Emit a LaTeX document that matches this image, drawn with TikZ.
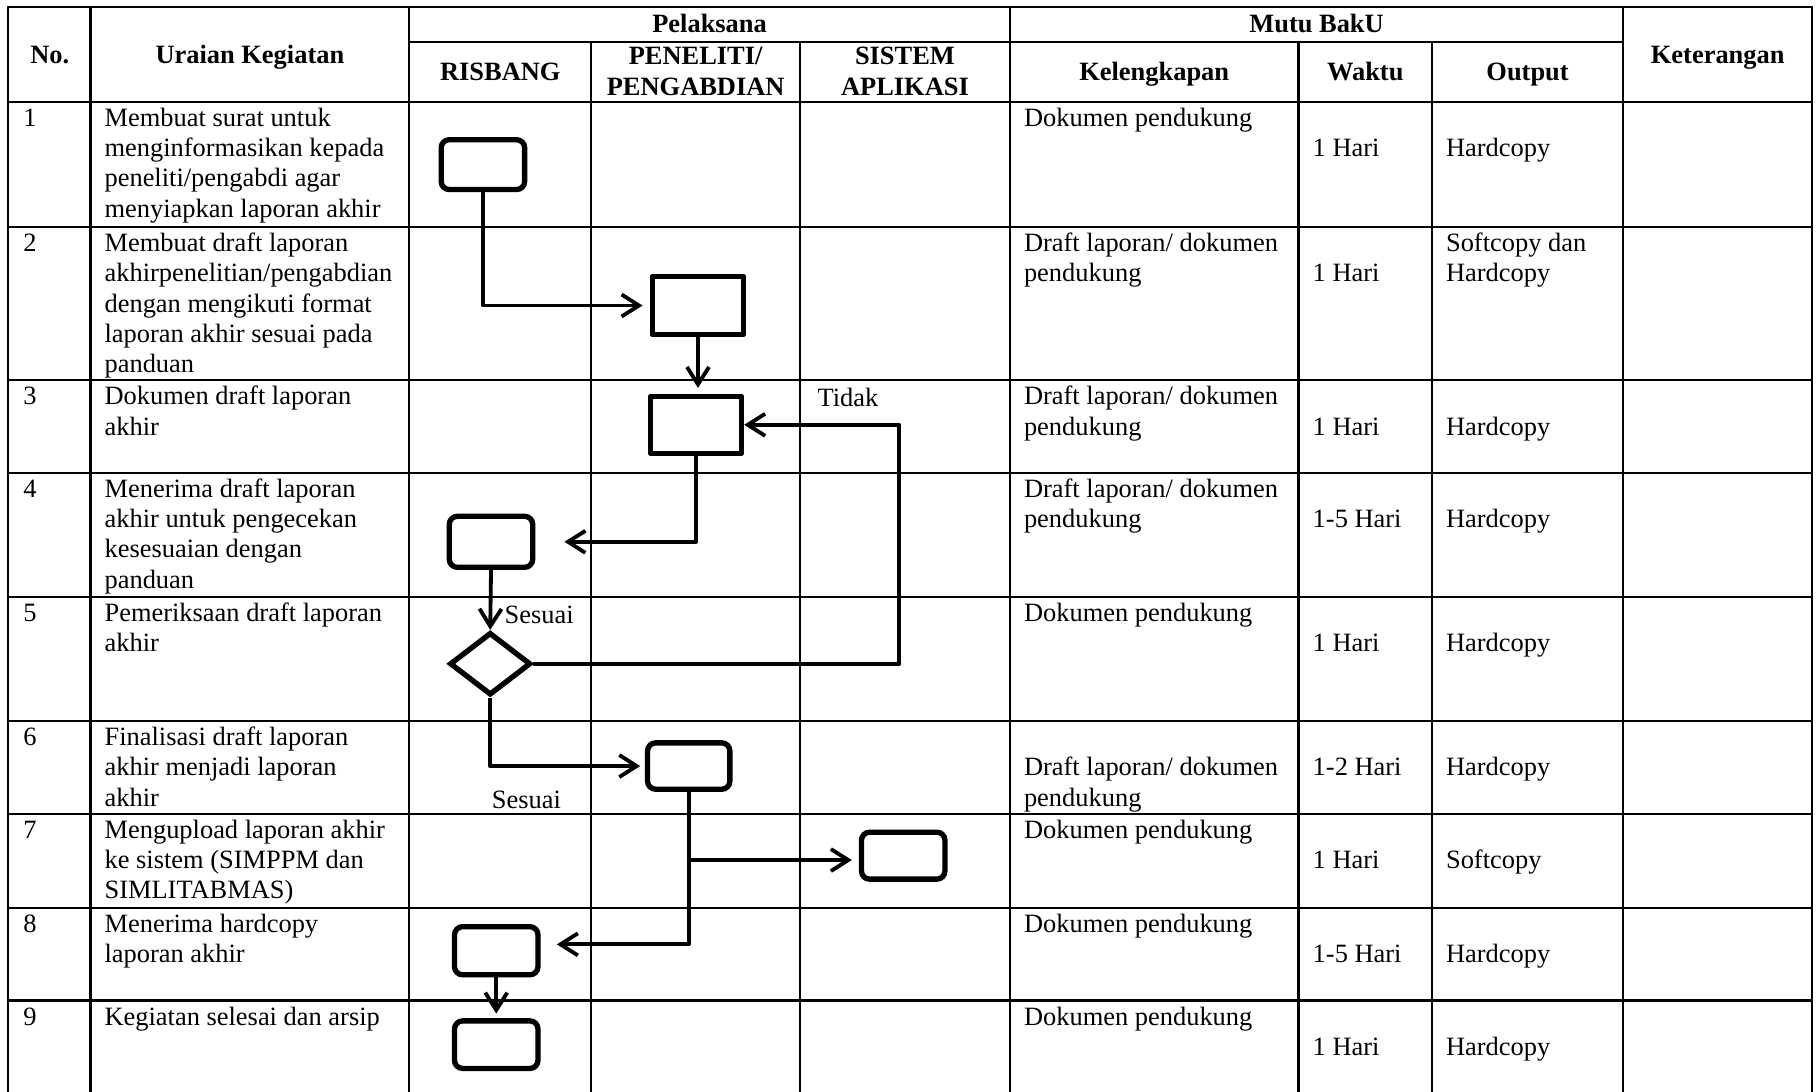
\documentclass[tikz,border=0pt]{standalone}
\usepackage{fontspec}
\setmainfont{Liberation Serif}
\usetikzlibrary{arrows.meta,shapes.geometric}
\tikzset{
  grid/.style={line width=2pt, line cap=rect},
  rbox/.style={draw, line width=4.6pt, rounded corners=7pt, inner sep=0pt, minimum width=72pt, minimum height=43pt},
  sbox/.style={draw, line width=4.6pt, inner sep=0pt, line join=round},
  dbox/.style={draw, diamond, line width=4.6pt, inner sep=0pt, minimum width=70pt, minimum height=54pt, line join=miter},
  arr/.style={line width=3.3pt, line join=round, -{Straight Barb[length=15pt,width=19pt]}},
  txt/.style={anchor=north west, inner sep=0pt, align=left, font=\fontsize{22.8}{26}\selectfont},
  lbl/.style={anchor=base west, inner sep=0pt, font=\fontsize{22.8}{26}\selectfont},
  hd/.style={anchor=base, inner sep=0pt, align=center, font=\bfseries\fontsize{22.8}{26}\selectfont},
}
\begin{document}
\begin{tikzpicture}[x=1pt,y=-1pt]
\useasboundingbox (0,0) rectangle (1568,941);
% table grid
\draw[grid] (7,6) -- (1563,6);
\draw[grid] (353,36) -- (1400,36);
\foreach \y in {88,196,328,408,515,622,702,783,863} \draw[grid] (7,\y) -- (1563,\y);
\foreach \x in {7,78,353,871,1400,1563} \draw[grid] (\x,6) -- (\x,945);
\foreach \x in {510,690,1120,1235} \draw[grid] (\x,36) -- (\x,945);
% headers
\node[hd] (hNo) at (43,55) {No.};
\node[hd] (hUr) at (215.5,55) {Uraian Kegiatan};
\node[hd] (hPel) at (612,28) {Pelaksana};
\node[hd] (hMutu) at (1135.5,28) {Mutu BakU};
\node[hd] (hRis) at (431.5,69.5) {RISBANG};
\node[hd] (hPen1) at (600,56) {PENELITI/};
\node[hd] (hPen2) at (600,82) {PENGABDIAN};
\node[hd] (hSis1) at (780.5,56) {SISTEM};
\node[hd] (hSis2) at (780.5,82) {APLIKASI};
\node[hd] (hKel) at (995.5,69.5) {Kelengkapan};
\node[hd] (hWak) at (1177.5,69.5) {Waktu};
\node[hd] (hOut) at (1317.5,69.5) {Output};
\node[hd] (hKet) at (1481.5,55) {Keterangan};
% row 1
\node[txt] (n1) at (20,90.8) {\strut 1};
\node[txt] (u1) at (90,90.8) {\strut Membuat surat untuk\\menginformasikan kepada\\peneliti/pengabdi agar\\menyiapkan laporan akhir};
\node[txt] (k1) at (883,90.8) {\strut Dokumen pendukung};
\node[txt] (w1) at (1132,116.8) {\strut 1 Hari};
\node[txt] (o1) at (1247,116.8) {\strut Hardcopy};
% row 2
\node[txt] (n2) at (20,198.8) {\strut 2};
\node[txt] (u2) at (90,198.8) {\strut Membuat draft laporan\\akhirpenelitian/pengabdian\\dengan mengikuti format\\laporan akhir sesuai pada\\panduan};
\node[txt] (k2) at (883,198.8) {\strut Draft laporan/ dokumen\\pendukung};
\node[txt] (w2) at (1132,224.8) {\strut 1 Hari};
\node[txt] (o2) at (1247,198.8) {\strut Softcopy dan\\Hardcopy};
% row 3
\node[txt] (n3) at (20,330.8) {\strut 3};
\node[txt] (u3) at (90,330.8) {\strut Dokumen draft laporan\\akhir};
\node[txt] (k3) at (883,330.8) {\strut Draft laporan/ dokumen\\pendukung};
\node[txt] (w3) at (1132,356.8) {\strut 1 Hari};
\node[txt] (o3) at (1247,356.8) {\strut Hardcopy};
% row 4
\node[txt] (n4) at (20,410.8) {\strut 4};
\node[txt] (u4) at (90,410.8) {\strut Menerima draft laporan\\akhir untuk pengecekan\\kesesuaian dengan\\panduan};
\node[txt] (k4) at (883,410.8) {\strut Draft laporan/ dokumen\\pendukung};
\node[txt] (w4) at (1132,436.8) {\strut 1-5 Hari};
\node[txt] (o4) at (1247,436.8) {\strut Hardcopy};
% row 5
\node[txt] (n5) at (20,517.8) {\strut 5};
\node[txt] (u5) at (90,517.8) {\strut Pemeriksaan draft laporan\\akhir};
\node[txt] (k5) at (883,517.8) {\strut Dokumen pendukung};
\node[txt] (w5) at (1132,543.8) {\strut 1 Hari};
\node[txt] (o5) at (1247,543.8) {\strut Hardcopy};
% row 6
\node[txt] (n6) at (20,624.8) {\strut 6};
\node[txt] (u6) at (90,624.8) {\strut Finalisasi draft laporan\\akhir menjadi laporan\\akhir};
\node[txt] (k6) at (883,650.8) {\strut Draft laporan/ dokumen\\pendukung};
\node[txt] (w6) at (1132,650.8) {\strut 1-2 Hari};
\node[txt] (o6) at (1247,650.8) {\strut Hardcopy};
% row 7
\node[txt] (n7) at (20,704.8) {\strut 7};
\node[txt] (u7) at (90,704.8) {\strut Mengupload laporan akhir\\ke sistem (SIMPPM dan\\SIMLITABMAS)};
\node[txt] (k7) at (883,704.8) {\strut Dokumen pendukung};
\node[txt] (w7) at (1132,730.8) {\strut 1 Hari};
\node[txt] (o7) at (1247,730.8) {\strut Softcopy};
% row 8
\node[txt] (n8) at (20,785.8) {\strut 8};
\node[txt] (u8) at (90,785.8) {\strut Menerima hardcopy\\laporan akhir};
\node[txt] (k8) at (883,785.8) {\strut Dokumen pendukung};
\node[txt] (w8) at (1132,811.8) {\strut 1-5 Hari};
\node[txt] (o8) at (1247,811.8) {\strut Hardcopy};
% row 9
\node[txt] (n9) at (20,865.8) {\strut 9};
\node[txt] (u9) at (90,865.8) {\strut Kegiatan selesai dan arsip};
\node[txt] (k9) at (883,865.8) {\strut Dokumen pendukung};
\node[txt] (w9) at (1132,891.8) {\strut 1 Hari};
\node[txt] (o9) at (1247,891.8) {\strut Hardcopy};
% flow shapes
\node[rbox] (A) at (416.5,142) {};
\node[sbox, minimum width=79pt, minimum height=50pt] (B) at (602,263.5) {};
\node[sbox, minimum width=78.5pt, minimum height=49pt] (C) at (600.3,366.4) {};
\node[rbox, minimum height=44pt] (D) at (423.5,467.3) {};
\node[dbox] (Q) at (422.8,572.5) {};
\node[rbox, minimum width=71pt, minimum height=40pt] (E) at (594,660.7) {};
\node[rbox, minimum height=40.5pt] (F) at (779,738) {};
\node[rbox, minimum height=41.5pt] (G) at (428,820) {};
\node[rbox, minimum height=41pt] (H) at (428,901) {};
% labels
\node[lbl] (s1) at (435,538) {Sesuai};
\node[lbl] (s2) at (424,697) {Sesuai};
\node[lbl] (td) at (705,351) {Tidak};
% connectors
\coordinate (xT) at (775.7,0);
\coordinate (fb) at ([yshift=-3.8pt]F.west);
\coordinate (gb) at ([yshift=5.5pt]G.east);
\draw[arr, shorten >=6pt] (A.south) |- (B.west);
\draw[arr, shorten >=5pt] (B.south) -- (B.south |- C.north);
\draw[arr, shorten >=25pt] (C.south) |- (D.east);
\draw[arr] (D.south) -- (Q.north);
\draw[arr] (Q.east) -- (Q.east -| xT) |- (C.east);
\draw[arr, shorten >=4pt] (Q.south) |- (E.west);
\draw[arr, shorten >=14pt] (E.south) |- (gb);
\draw[arr, shorten >=6pt] (E.south |- fb) -- (fb);
\draw[arr, shorten >=4pt] (G.south) -- (H.north);
\end{tikzpicture}
\end{document}
